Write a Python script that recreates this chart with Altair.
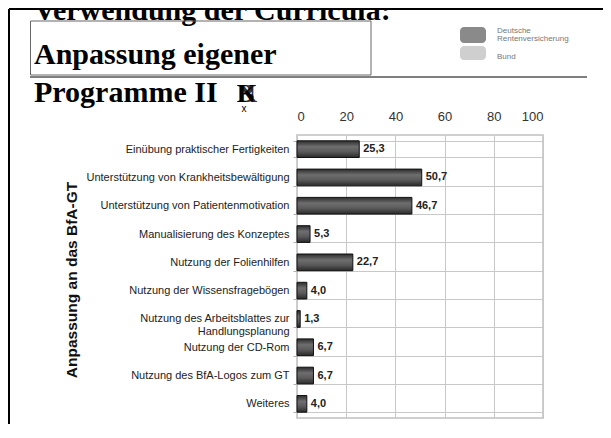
import altair as alt
import pandas as pd

categories = [
    "Einübung praktischer Fertigkeiten",
    "Unterstützung von Krankheitsbewältigung",
    "Unterstützung von Patientenmotivation",
    "Manualisierung des Konzeptes",
    "Nutzung der Folienhilfen",
    "Nutzung der Wissensfragebögen",
    "Nutzung des Arbeitsblattes zur|Handlungsplanung",
    "Nutzung der CD-Rom",
    "Nutzung des BfA-Logos zum GT",
    "Weiteres",
]
values = [25.3, 50.7, 46.7, 5.3, 22.7, 4.0, 1.3, 6.7, 6.7, 4.0]
x_ticks = [0, 20, 40, 60, 80, 100]
title_lines = ["Verwendung der Curricula:", "Anpassung eigener", "Programme II"]
axis_title = "Anpassung an das BfA-GT"
logo_lines = ["Deutsche", "Rentenversicherung", "Bund"]

df = pd.DataFrame({"kat": categories, "wert": values})
dummy = pd.DataFrame({"a": [0]})

# plot origin on page: (297, 135)
OX, OY = 297, 135
def px(x):
    return x - OX
def py(y):
    return y - OY

SANS = "Liberation Sans, Arial, Helvetica, sans-serif"
SERIF = "Liberation Serif, Times New Roman, serif"

grad = alt.Gradient(
    gradient="linear",
    stops=[
        alt.GradientStop(color="#2c2c2c", offset=0),
        alt.GradientStop(color="#6e6e6e", offset=0.35),
        alt.GradientStop(color="#5a5a5a", offset=0.65),
        alt.GradientStop(color="#2a2a2a", offset=1),
    ],
    x1=0, x2=0, y1=0, y2=1,
)

y_enc = alt.Y(
    "kat:N",
    sort=categories,
    scale=alt.Scale(paddingInner=0.41, paddingOuter=0.205),
    axis=alt.Axis(
        title=None,
        labelExpr="split(datum.label, '|')",
        labelFontSize=11,
        labelColor="#222222",
        labelFont=SANS,
        labelLineHeight=13,
        labelPadding=4,
        tickSize=4,
        ticks=True,
        tickColor="#b0b0b0",
        tickBand="extent",
        grid=True,
        gridColor="#c8c8c8",
        domain=False,
        labelLimit=300,
    ),
)

x_enc = alt.X(
    "wert:Q",
    scale=alt.Scale(domain=[0, 100]),
    axis=alt.Axis(
        orient="top",
        values=x_ticks,
        title=None,
        labelFontSize=13,
        labelColor="#333333",
        labelFont=SANS,
        labelPadding=12,
        ticks=False,
        domain=False,
        grid=True,
        gridColor="#c8c8c8",
    ),
)

bars = alt.Chart(df).mark_bar(color=grad, stroke="#111111", strokeWidth=1).encode(
    x=x_enc, y=y_enc
)

labels = alt.Chart(df).transform_calculate(
    txt="replace(format(datum.wert, '.1f'), '.', ',')"
).mark_text(
    align="left", baseline="middle", dx=4, fontSize=11, fontWeight="bold",
    color="#222222", font=SANS
).encode(x="wert:Q", y=alt.Y("kat:N", sort=categories), text="txt:N")

deco = []
# outer slide frame
deco.append(alt.Chart(dummy).mark_rule(color="#000000", strokeWidth=2).encode(
    x=alt.value(px(9)), y=alt.value(py(9)), y2=alt.value(py(440))))
deco.append(alt.Chart(dummy).mark_rule(color="#000000", strokeWidth=2).encode(
    x=alt.value(px(9)), x2=alt.value(px(611)), y=alt.value(py(9))))
# horizontal line under header
deco.append(alt.Chart(dummy).mark_rule(color="#555555", strokeWidth=1.5).encode(
    x=alt.value(px(30)), x2=alt.value(px(587)), y=alt.value(py(77))))
# title texts
title_y = [20, 64, 102]
for t, yy in zip(title_lines, title_y):
    deco.append(alt.Chart(dummy).mark_text(
        text=t, align="left", baseline="alphabetic", font=SERIF, fontSize=30,
        fontWeight="bold", color="#000000"
    ).encode(x=alt.value(px(34)), y=alt.value(py(yy))))
# title box
deco.append(alt.Chart(dummy).mark_rect(fill="transparent", stroke="#666666", strokeWidth=1).encode(
    x=alt.value(px(30.5)), x2=alt.value(px(371)), y=alt.value(py(21)), y2=alt.value(py(75))))
# odd overlapping glyph
for g in ["N", "K", "B"]:
    deco.append(alt.Chart(dummy).mark_text(
        text=g, align="left", baseline="alphabetic", font=SERIF, fontSize=26,
        fontWeight="bold", color="#000000", opacity=0.8
    ).encode(x=alt.value(px(237)), y=alt.value(py(102))))
deco.append(alt.Chart(dummy).mark_text(
    text="x", align="center", baseline="alphabetic", font=SANS, fontSize=10, color="#000000"
).encode(x=alt.value(px(244)), y=alt.value(py(112))))
# logo
deco.append(alt.Chart(dummy).mark_rect(color="#8a8a8a", cornerRadius=4).encode(
    x=alt.value(px(460)), x2=alt.value(px(486)), y=alt.value(py(27)), y2=alt.value(py(43))))
deco.append(alt.Chart(dummy).mark_rect(color="#cfcfcf", cornerRadius=4).encode(
    x=alt.value(px(460)), x2=alt.value(px(486)), y=alt.value(py(46)), y2=alt.value(py(60))))
for t, yy in zip(logo_lines, [33, 41, 59]):
    deco.append(alt.Chart(dummy).mark_text(
        text=t, align="left", baseline="alphabetic", font=SANS, fontSize=8, color="#777777"
    ).encode(x=alt.value(px(497)), y=alt.value(py(yy))))
# y-axis title
deco.append(alt.Chart(dummy).mark_text(
    text=axis_title, align="center", baseline="middle", angle=270, font=SANS,
    fontSize=15.5, fontWeight="bold", color="#111111"
).encode(x=alt.value(px(72)), y=alt.value(py(280))))

chart = alt.layer(bars, labels, *deco).properties(
    width=246,
    height=283,
    autosize=alt.AutoSizeParams(type="none"),
    padding={"left": 289, "top": 127, "right": 60, "bottom": 6},
    background="white",
).configure_view(stroke="#c0c0c0", strokeWidth=1.5)

chart.save("out.html", embed_options={"renderer": "svg", "actions": False})
